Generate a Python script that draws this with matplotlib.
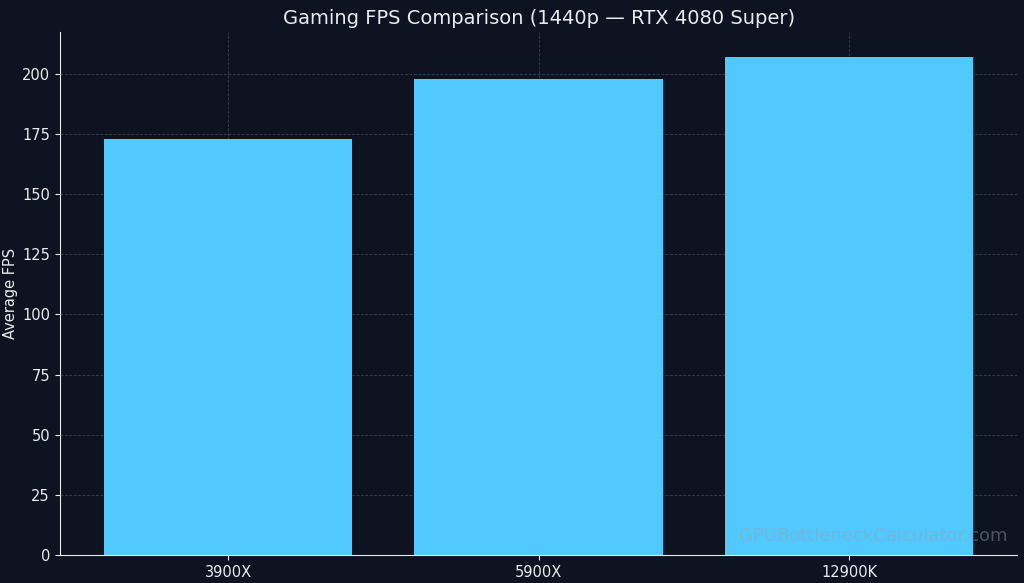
import matplotlib
matplotlib.use("Agg")
import matplotlib.pyplot as plt

CPUS = ["3900X", "5900X", "12900K"]
AVG_FPS = [173, 198, 207]

TITLE = "Gaming FPS Comparison (1440p \u2014 RTX 4080 Super)"
YLABEL = "Average FPS"
WATERMARK = "GPUBottleneckCalculator.com"

BG = "#0d1320"
BAR = "#52c9fe"
FG = "#e8ecf2"


def main() -> None:
    fig, ax = plt.subplots(figsize=(10.24, 5.83), dpi=100)
    fig.patch.set_facecolor(BG)
    ax.set_facecolor(BG)

    ax.bar(CPUS, AVG_FPS, width=0.8, color=BAR, zorder=2)
    ax.set_axisbelow(True)
    ax.grid(True, linestyle="--", linewidth=0.6, color="#8a93a3", alpha=0.35)

    ax.set_title(TITLE, color=FG, fontsize=14, pad=6)
    ax.set_ylabel(YLABEL, color=FG, fontsize=10.5, labelpad=3)
    ax.tick_params(colors=FG, labelsize=10.5, pad=4)
    for side in ("top", "right"):
        ax.spines[side].set_visible(False)
    for side in ("left", "bottom"):
        ax.spines[side].set_color(FG)

    ax.text(0.99, 0.02, WATERMARK, transform=ax.transAxes, ha="right", va="bottom",
            fontsize=13, color="#9aa3b0", alpha=0.45, zorder=4)

    fig.subplots_adjust(left=0.059, right=0.993, top=0.945, bottom=0.048)
    fig.savefig("out.png", dpi=100, facecolor=BG)


if __name__ == "__main__":
    main()
